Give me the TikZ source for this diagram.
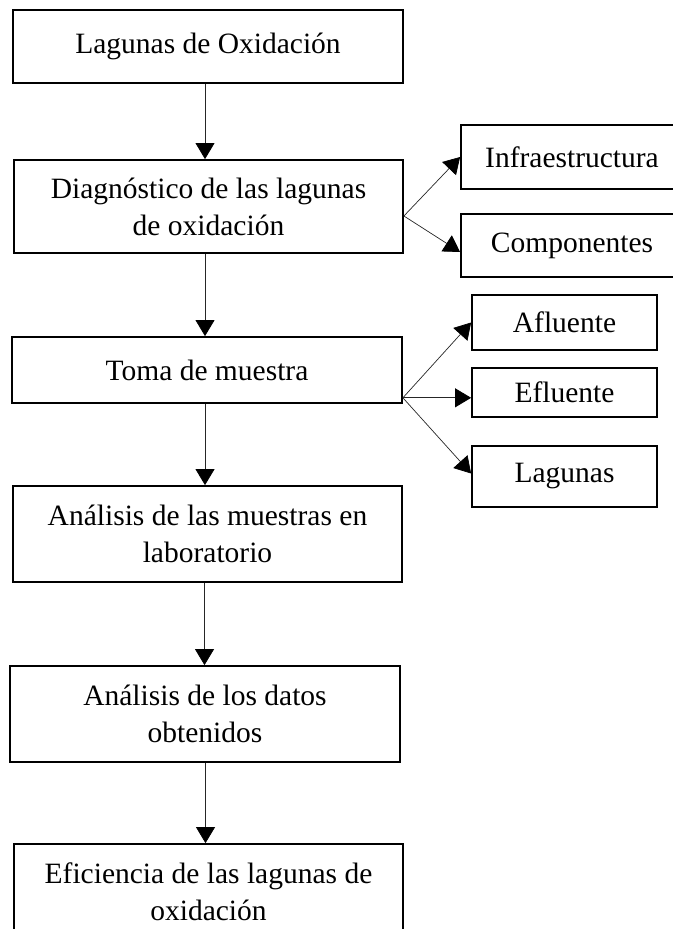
\documentclass[tikz,border=0pt]{standalone}
\usepackage{fontspec}
\setmainfont{Liberation Serif}
\usetikzlibrary{arrows.meta,calc}
\begin{document}
\begin{tikzpicture}[x=1pt,y=-1pt,
  box/.style={draw=black,line width=1.8pt,rectangle,inner sep=0pt,align=center,
    font=\fontsize{29.5}{37}\selectfont},
  conn/.style={draw=black!85,line width=0.7pt,-{Triangle[length=16pt,width=19pt,fill=black,color=black]}}]
\useasboundingbox (0,0) rectangle (672,929);
% main column
\node[box,minimum width=390pt,minimum height=73pt] (b1) at (208,46.5) {Lagunas de Oxidación};
\node[box,minimum width=389pt,minimum height=93pt] (b2) at (208.5,206.5) {Diagnóstico de las lagunas\\de oxidación};
\node[box,minimum width=390pt,minimum height=66pt] (b3) at (207,370) {Toma de muestra};
\node[box,minimum width=389pt,minimum height=96pt] (b4) at (207.5,534) {Análisis de las muestras en\\laboratorio};
\node[box,minimum width=390pt,minimum height=96pt] (b5) at (205,714) {Análisis de los datos\\obtenidos};
\node[box,minimum width=389pt,minimum height=96pt] (b6) at (208.5,892) {Eficiencia de las lagunas de\\oxidación};
% side boxes
\node[box,minimum width=222pt,minimum height=64pt] (r1) at (572,157) {Infraestructura};
\node[box,minimum width=222pt,minimum height=63pt] (r2) at (572,245.5) {Componentes};
\node[box,minimum width=185pt,minimum height=55pt] (r3) at (564.5,322.5) {Afluente};
\node[box,minimum width=185pt,minimum height=49pt] (r4) at (564.5,392.5) {Efluente};
\node[box,minimum width=185pt,minimum height=61pt] (r5) at (564.5,476.5) {Lagunas};
% vertical connectors
\coordinate (s1) at ($(b1.south)+(-3,0)$);
\coordinate (s2) at ($(b2.south)+(-3.5,0)$);
\coordinate (s3) at ($(b3.south)+(-2,0)$);
\coordinate (s4) at ($(b4.south)+(-3,0)$);
\coordinate (s5) at ($(b5.south)+(0.5,0)$);
\draw[conn] (s1) -- (s1 |- b2.north);
\draw[conn] (s2) -- (s2 |- b3.north);
\draw[conn] (s3) -- (s3 |- b4.north);
\draw[conn] (s4) -- (s4 |- b5.north);
\draw[conn] (s5) -- (s5 |- b6.north);
% side connectors
\coordinate (o2) at ($(b2.south east)!0.4!(b2.north east)$);
\coordinate (o3) at ($(b3.south east)!0.09!(b3.north east)$);
\draw[conn] (o2) -- (r1.west);
\draw[conn] (o2) -- ($(r2.south west)!0.4!(r2.north west)$);
\draw[conn] (o3) -- (r3.west);
\draw[conn] (o3) -- (o3 -| r4.west);
\draw[conn] (o3) -- ($(r5.west)+(0,-3)$);
\end{tikzpicture}
\end{document}
